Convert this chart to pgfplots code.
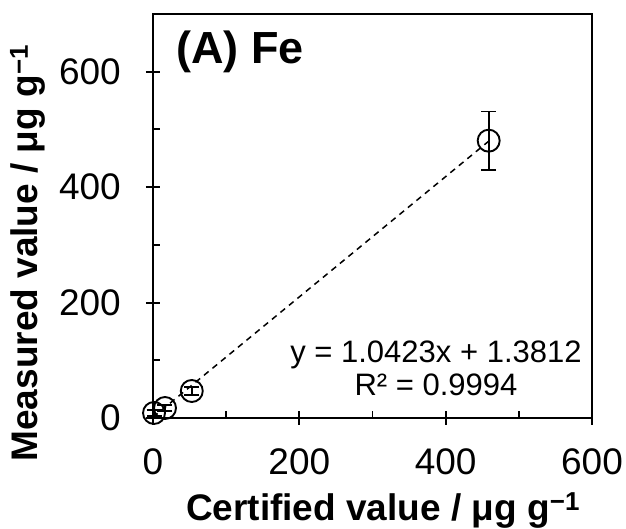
\documentclass[border=0pt]{standalone}
\usepackage{fontspec}
\setmainfont{Liberation Sans}
\usepackage{pgfplots}
\pgfplotsset{compat=1.18}
\begin{document}
\begin{tikzpicture}
\begin{axis}[
  scale only axis,
  width=439pt, height=404pt,
  xmin=0, xmax=600, ymin=0, ymax=700,
  xtick={0,200,400,600}, ytick={0,200,400,600},
  tick pos=left,
  tick align=center,
  major tick length=14pt,
  extra x ticks={100,300,500}, extra y ticks={100,300,500},
  extra x tick labels={}, extra y tick labels={},
  extra tick style={tick align=inside, major tick length=7pt},
  every tick/.style={black, line width=1.9pt},
  axis line style={line width=1.9pt},
  tick label style={font=\fontsize{37}{40}\selectfont, inner sep=0pt},
  /pgf/number format/assume math mode=true,
  xticklabel style={anchor=north, yshift=-23pt},
  yticklabel style={anchor=east, xshift=-25pt},
  label style={font=\bfseries\fontsize{37}{40}\selectfont, inner sep=0pt},
  xlabel={Certified value / μg g\textsuperscript{−1}},
  ylabel={Measured value / μg g\textsuperscript{−1}},
  xlabel style={at={(axis description cs:0.524,-0.2525)}, anchor=base},
  ylabel style={at={(axis description cs:-0.2642,0.408)}, anchor=base},
  clip=false,
]
\addplot[only marks, mark=o, mark size=11pt, black,
  mark options={line width=1.9pt},
  error bars/.cd, y dir=both, y explicit,
  error bar style={line width=1.9pt, black},
  error mark options={rotate=90, mark size=7.5pt, line width=1.9pt, black}]
coordinates {
  (1.4,8.7) +- (0,5)
  (16.4,17.3) +- (0,5)
  (53,46.8) +- (0,7)
  (458.8,480.5) +- (0,50.5)
};
\addplot[black, line width=1.5pt, dash pattern=on 6pt off 5pt] coordinates {
  (0,1.3812) (458.8,479.6)
};
\node[anchor=base west, inner sep=0pt, font=\bfseries\fontsize{45}{48}\selectfont] at (rel axis cs:0.0524,0.8787) {(A) Fe};
\node[anchor=base, inner sep=0pt, font=\fontsize{31}{34}\selectfont] at (rel axis cs:0.6446,0.1386) {y = 1.0423x + 1.3812};
\node[anchor=base, inner sep=0pt, font=\fontsize{31}{34}\selectfont] at (rel axis cs:0.6446,0.0569) {R² = 0.9994};
\path (rel axis cs:0,0) ++(-153pt,-111pt) (rel axis cs:1,1) ++(34pt,14pt);
\end{axis}
\end{tikzpicture}
\end{document}
